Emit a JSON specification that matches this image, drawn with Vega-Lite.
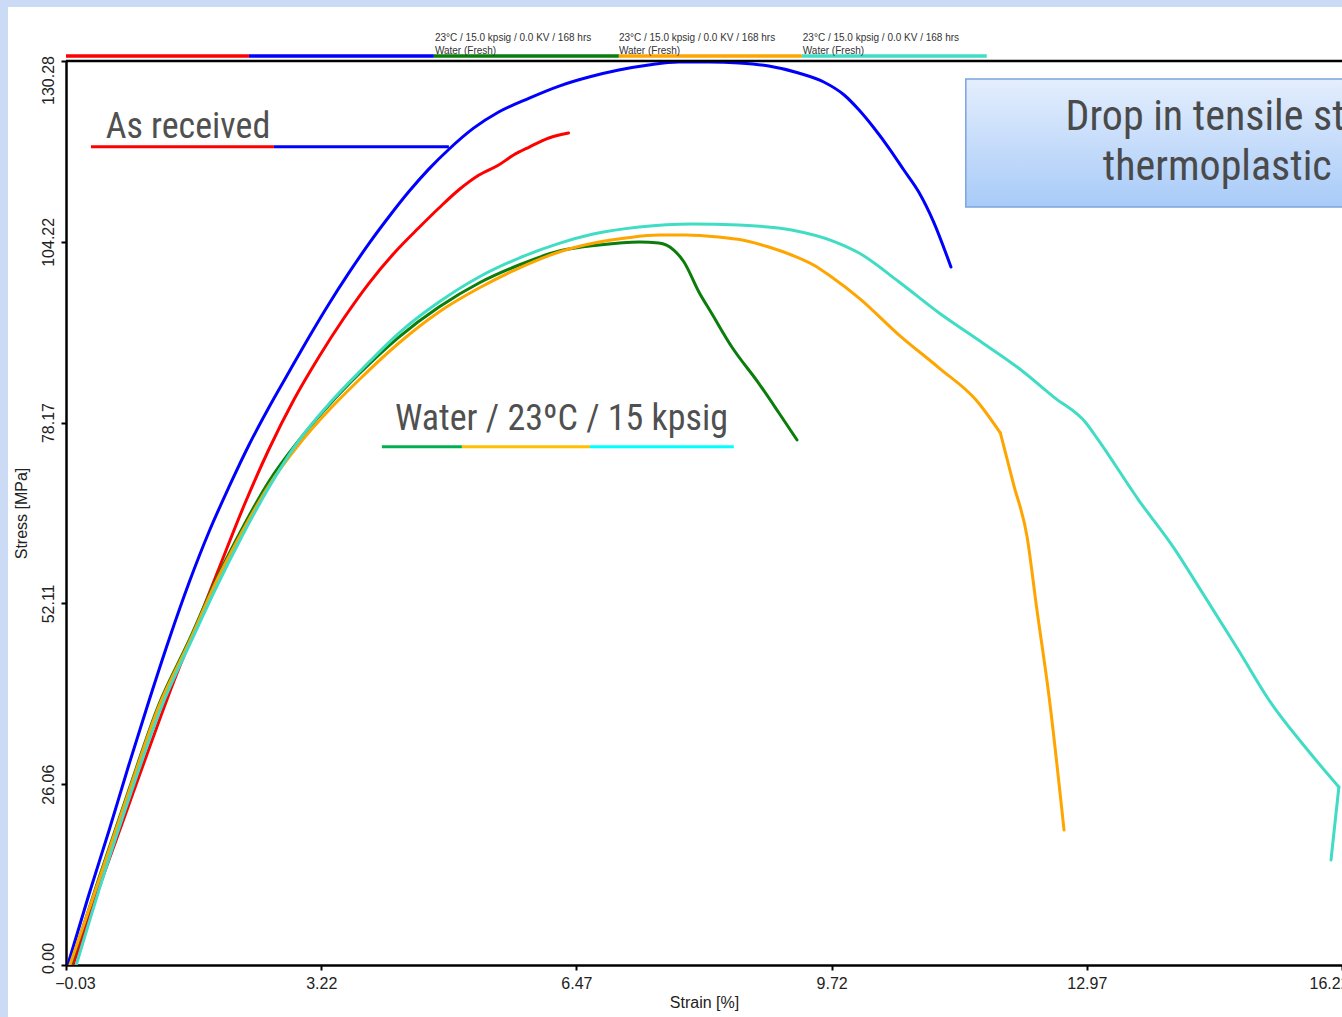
{
  "$schema": "https://vega.github.io/schema/vega-lite/v6.json",
  "width": 1276,
  "height": 904,
  "autosize": {"type": "none"},
  "padding": {"left": 66, "top": 61, "right": 0, "bottom": 52},
  "background": "white",
  "config": {
    "view": {"stroke": null},
    "axis": {
      "domainColor": "black", "domainWidth": 2.5,
      "tickColor": "black", "tickWidth": 2, "tickSize": 5,
      "gridColor": "#c8c8c8", "gridWidth": 1,
      "labelFont": "Liberation Sans", "labelFontSize": 16, "labelColor": "#222222",
      "titleFont": "Liberation Sans", "titleFontSize": 16, "titleFontWeight": "normal", "titleColor": "#222222",
      "labelFlush": false
    }
  },
  "datasets": {
    "curves": [
      {"s":"A2","g":1,"i":0,"x":0.00,"y":0.29},{"s":"A2","g":1,"i":1,"x":0.26,"y":10.09},{"s":"A2","g":1,"i":2,"x":0.52,"y":19.45},{"s":"A2","g":1,"i":3,"x":0.77,"y":28.82},{"s":"A2","g":1,"i":4,"x":1.03,"y":38.19},{"s":"A2","g":1,"i":5,"x":1.28,"y":46.84},{"s":"A2","g":1,"i":6,"x":1.54,"y":55.19},{"s":"A2","g":1,"i":7,"x":1.79,"y":62.4},{"s":"A2","g":1,"i":8,"x":2.05,"y":69.0},{"s":"A2","g":1,"i":9,"x":2.30,"y":74.94},{"s":"A2","g":1,"i":10,"x":2.55,"y":80.27},{"s":"A2","g":1,"i":11,"x":2.81,"y":85.46},{"s":"A2","g":1,"i":12,"x":3.06,"y":90.4},{"s":"A2","g":1,"i":13,"x":3.32,"y":95.3},{"s":"A2","g":1,"i":14,"x":3.57,"y":99.7},{"s":"A2","g":1,"i":15,"x":3.83,"y":104.0},{"s":"A2","g":1,"i":16,"x":4.08,"y":107.8},{"s":"A2","g":1,"i":17,"x":4.34,"y":111.5},{"s":"A2","g":1,"i":18,"x":4.59,"y":114.7},{"s":"A2","g":1,"i":19,"x":4.85,"y":117.6},{"s":"A2","g":1,"i":20,"x":5.16,"y":120.6},{"s":"A2","g":1,"i":21,"x":5.48,"y":122.93},{"s":"A2","g":1,"i":22,"x":5.87,"y":124.94},{"s":"A2","g":1,"i":23,"x":6.25,"y":126.67},{"s":"A2","g":1,"i":24,"x":6.63,"y":127.97},{"s":"A2","g":1,"i":25,"x":7.01,"y":128.98},{"s":"A2","g":1,"i":26,"x":7.39,"y":129.70},{"s":"A2","g":1,"i":27,"x":7.77,"y":130.13},{"s":"A2","g":1,"i":28,"x":8.16,"y":130.13},{"s":"A2","g":1,"i":29,"x":8.54,"y":129.99},{"s":"A2","g":1,"i":30,"x":8.92,"y":129.55},{"s":"A2","g":1,"i":31,"x":9.30,"y":128.55},{"s":"A2","g":1,"i":32,"x":9.62,"y":127.25},{"s":"A2","g":1,"i":33,"x":9.88,"y":125.38},{"s":"A2","g":1,"i":34,"x":10.07,"y":123.21},{"s":"A2","g":1,"i":35,"x":10.26,"y":120.62},{"s":"A2","g":1,"i":36,"x":10.45,"y":117.74},{"s":"A2","g":1,"i":37,"x":10.64,"y":114.57},{"s":"A2","g":1,"i":38,"x":10.83,"y":111.40},{"s":"A2","g":1,"i":39,"x":11.02,"y":107.07},{"s":"A2","g":1,"i":40,"x":11.24,"y":100.59},
      {"s":"A1","g":1,"i":0,"x":0.06,"y":0},{"s":"A1","g":1,"i":1,"x":0.39,"y":11.10},{"s":"A1","g":1,"i":2,"x":0.71,"y":21.18},{"s":"A1","g":1,"i":3,"x":1.03,"y":31.27},{"s":"A1","g":1,"i":4,"x":1.35,"y":41.07},{"s":"A1","g":1,"i":5,"x":1.66,"y":49.72},{"s":"A1","g":1,"i":6,"x":1.92,"y":57.21},{"s":"A1","g":1,"i":7,"x":2.24,"y":66.29},{"s":"A1","g":1,"i":8,"x":2.55,"y":74.22},{"s":"A1","g":1,"i":9,"x":2.87,"y":81.42},{"s":"A1","g":1,"i":10,"x":3.19,"y":87.62},{"s":"A1","g":1,"i":11,"x":3.51,"y":93.24},{"s":"A1","g":1,"i":12,"x":3.83,"y":98.28},{"s":"A1","g":1,"i":13,"x":4.15,"y":102.61},{"s":"A1","g":1,"i":14,"x":4.46,"y":106.21},{"s":"A1","g":1,"i":15,"x":4.72,"y":109.09},{"s":"A1","g":1,"i":16,"x":4.97,"y":111.69},{"s":"A1","g":1,"i":17,"x":5.23,"y":113.85},{"s":"A1","g":1,"i":18,"x":5.48,"y":115.29},{"s":"A1","g":1,"i":19,"x":5.67,"y":116.73},{"s":"A1","g":1,"i":20,"x":5.87,"y":117.88},{"s":"A1","g":1,"i":21,"x":6.12,"y":119.18},{"s":"A1","g":1,"i":22,"x":6.37,"y":119.90},
      {"s":"W1","g":1,"i":0,"x":0.03,"y":0},{"s":"W1","g":1,"i":1,"x":0.39,"y":12.54},{"s":"W1","g":1,"i":2,"x":0.77,"y":25.22},{"s":"W1","g":1,"i":3,"x":1.15,"y":37.47},{"s":"W1","g":1,"i":4,"x":1.54,"y":46.84},{"s":"W1","g":1,"i":5,"x":1.85,"y":54.76},{"s":"W1","g":1,"i":6,"x":2.17,"y":61.97},{"s":"W1","g":1,"i":7,"x":2.55,"y":69.61},{"s":"W1","g":1,"i":8,"x":2.94,"y":75.66},{"s":"W1","g":1,"i":9,"x":3.32,"y":80.70},{"s":"W1","g":1,"i":10,"x":3.70,"y":85.17},{"s":"W1","g":1,"i":11,"x":4.21,"y":90.50},{"s":"W1","g":1,"i":12,"x":4.72,"y":94.82},{"s":"W1","g":1,"i":13,"x":5.23,"y":98.28},{"s":"W1","g":1,"i":14,"x":5.74,"y":100.88},{"s":"W1","g":1,"i":15,"x":6.25,"y":102.89},{"s":"W1","g":1,"i":16,"x":6.76,"y":103.76},{"s":"W1","g":1,"i":17,"x":7.27,"y":104.19},{"s":"W1","g":1,"i":18,"x":7.52,"y":104.05},{"s":"W1","g":1,"i":19,"x":7.71,"y":103.04},{"s":"W1","g":1,"i":20,"x":7.84,"y":101.31},{"s":"W1","g":1,"i":21,"x":8.03,"y":96.99},{"s":"W1","g":1,"i":22,"x":8.19,"y":93.96},{"s":"W1","g":1,"i":23,"x":8.45,"y":89.06},{"s":"W1","g":1,"i":24,"x":8.79,"y":83.87},{"s":"W1","g":1,"i":25,"x":9.05,"y":79.55},{"s":"W1","g":1,"i":26,"x":9.28,"y":75.66},
      {"s":"W2","g":1,"i":0,"x":0.02,"y":0},{"s":"W2","g":1,"i":1,"x":0.39,"y":12.25},{"s":"W2","g":1,"i":2,"x":0.77,"y":24.93},{"s":"W2","g":1,"i":3,"x":1.15,"y":37.18},{"s":"W2","g":1,"i":4,"x":1.54,"y":46.55},{"s":"W2","g":1,"i":5,"x":1.85,"y":54.47},{"s":"W2","g":1,"i":6,"x":2.17,"y":61.53},{"s":"W2","g":1,"i":7,"x":2.55,"y":69.03},{"s":"W2","g":1,"i":8,"x":2.94,"y":75.08},{"s":"W2","g":1,"i":9,"x":3.32,"y":79.98},{"s":"W2","g":1,"i":10,"x":3.70,"y":84.31},{"s":"W2","g":1,"i":11,"x":4.21,"y":89.64},{"s":"W2","g":1,"i":12,"x":4.72,"y":94.11},{"s":"W2","g":1,"i":13,"x":5.23,"y":97.56},{"s":"W2","g":1,"i":14,"x":5.74,"y":100.44},{"s":"W2","g":1,"i":15,"x":6.25,"y":102.75},{"s":"W2","g":1,"i":16,"x":6.76,"y":104.19},{"s":"W2","g":1,"i":17,"x":7.10,"y":104.77},{"s":"W2","g":1,"i":18,"x":7.52,"y":105.20},{"s":"W2","g":1,"i":19,"x":7.86,"y":105.20},{"s":"W2","g":1,"i":20,"x":8.28,"y":104.91},{"s":"W2","g":1,"i":21,"x":8.58,"y":104.48},{"s":"W2","g":1,"i":22,"x":8.92,"y":103.47},{"s":"W2","g":1,"i":23,"x":9.21,"y":102.32},{"s":"W2","g":1,"i":24,"x":9.49,"y":100.88},{"s":"W2","g":1,"i":25,"x":9.72,"y":99.15},{"s":"W2","g":1,"i":26,"x":10.07,"y":96.12},{"s":"W2","g":1,"i":27,"x":10.58,"y":90.79},{"s":"W2","g":1,"i":28,"x":11.09,"y":86.03},{"s":"W2","g":1,"i":29,"x":11.56,"y":81.42},{"s":"W2","g":1,"i":30,"x":11.87,"y":76.66},{"s":"W2","g":2,"i":31,"x":11.87,"y":76.66},{"s":"W2","g":2,"i":32,"x":12.04,"y":69.17},{"s":"W2","g":2,"i":33,"x":12.21,"y":61.68},{"s":"W2","g":2,"i":34,"x":12.33,"y":51.59},{"s":"W2","g":2,"i":35,"x":12.49,"y":38.62},{"s":"W2","g":2,"i":36,"x":12.68,"y":19.45},
      {"s":"W3","g":1,"i":0,"x":0.10,"y":0},{"s":"W3","g":1,"i":1,"x":0.43,"y":12.25},{"s":"W3","g":1,"i":2,"x":0.80,"y":24.93},{"s":"W3","g":1,"i":3,"x":1.18,"y":37.04},{"s":"W3","g":1,"i":4,"x":1.56,"y":46.55},{"s":"W3","g":1,"i":5,"x":1.88,"y":54.33},{"s":"W3","g":1,"i":6,"x":2.20,"y":61.53},{"s":"W3","g":1,"i":7,"x":2.58,"y":69.32},{"s":"W3","g":1,"i":8,"x":2.96,"y":75.95},{"s":"W3","g":1,"i":9,"x":3.34,"y":81.13},{"s":"W3","g":1,"i":10,"x":3.73,"y":85.75},{"s":"W3","g":1,"i":11,"x":4.21,"y":91.08},{"s":"W3","g":1,"i":12,"x":4.72,"y":95.54},{"s":"W3","g":1,"i":13,"x":5.23,"y":99.15},{"s":"W3","g":1,"i":14,"x":5.74,"y":101.88},{"s":"W3","g":1,"i":15,"x":6.25,"y":104.0},{"s":"W3","g":1,"i":16,"x":6.67,"y":105.3},{"s":"W3","g":1,"i":17,"x":7.27,"y":106.35},{"s":"W3","g":1,"i":18,"x":7.94,"y":106.79},{"s":"W3","g":1,"i":19,"x":8.54,"y":106.64},{"s":"W3","g":1,"i":20,"x":9.21,"y":105.92},{"s":"W3","g":1,"i":21,"x":9.77,"y":104.19},{"s":"W3","g":1,"i":22,"x":10.07,"y":102.61},{"s":"W3","g":1,"i":23,"x":10.58,"y":98.43},{"s":"W3","g":1,"i":24,"x":11.09,"y":93.96},{"s":"W3","g":1,"i":25,"x":11.59,"y":90.07},{"s":"W3","g":1,"i":26,"x":12.10,"y":86.03},{"s":"W3","g":1,"i":27,"x":12.55,"y":81.85},{"s":"W3","g":1,"i":28,"x":12.96,"y":78.11},{"s":"W3","g":1,"i":29,"x":13.12,"y":75.6},{"s":"W3","g":1,"i":30,"x":13.63,"y":67.01},{"s":"W3","g":1,"i":31,"x":14.08,"y":60.09},{"s":"W3","g":1,"i":32,"x":14.46,"y":53.32},{"s":"W3","g":1,"i":33,"x":14.90,"y":45.39},{"s":"W3","g":1,"i":34,"x":15.29,"y":38.19},{"s":"W3","g":1,"i":35,"x":15.73,"y":31.70},{"s":"W3","g":1,"i":36,"x":16.18,"y":25.65},{"s":"W3","g":2,"i":37,"x":16.18,"y":25.65},{"s":"W3","g":2,"i":38,"x":16.08,"y":15.13}
    ],
    "legend": [
      {"s":"A1","x0":-0.03,"x1":2.30},
      {"s":"A2","x0":2.30,"x1":4.655},
      {"s":"W1","x0":4.655,"x1":7.011},
      {"s":"W2","x0":7.011,"x1":9.341},
      {"s":"W3","x0":9.341,"x1":11.696}
    ],
    "legendText": [
      {"s":"W1","x":4.668,"label":"23°C / 15.0 kpsig / 0.0 KV / 168 hrs\nWater (Fresh)"},
      {"s":"W2","x":7.011,"label":"23°C / 15.0 kpsig / 0.0 KV / 168 hrs\nWater (Fresh)"},
      {"s":"W3","x":9.353,"label":"23°C / 15.0 kpsig / 0.0 KV / 168 hrs\nWater (Fresh)"}
    ],
    "underlines": [
      {"k":"red","x0":0.288,"x1":2.618,"y":117.93},
      {"k":"blue","x0":2.618,"x1":4.846,"y":117.93},
      {"k":"green","x0":3.993,"x1":5.012,"y":74.69},
      {"k":"orange","x0":5.012,"x1":6.642,"y":74.69},
      {"k":"cyan","x0":6.642,"x1":8.475,"y":74.69}
    ],
    "labels": [
      {"t":"As received","x":0.475,"y":119.13},
      {"t":"Water / 23ºC / 15 kpsig","x":4.159,"y":77.10}
    ],
    "box": [{"x0":11.429,"x1":17.5,"y0":109.23,"y1":127.68}],
    "boxText": [
      {"t":"Drop in tensile strength of","x":12.698,"y":120.33},
      {"t":"thermoplastic material","x":13.173,"y":113.13}
    ]
  },
  "layer": [
    {
      "data": {"values": [{}]},
      "mark": {"type": "rect", "color": "#cbdaf5", "clip": false},
      "encoding": {
        "x": {"datum": -0.9, "type": "quantitative"},
        "x2": {"datum": 17.5},
        "y": {"datum": 138.06, "type": "quantitative"},
        "y2": {"datum": 141}
      }
    },
    {
      "data": {"values": [{}]},
      "mark": {"type": "rect", "color": "#cbdaf5", "clip": false},
      "encoding": {
        "x": {"datum": -0.9, "type": "quantitative"},
        "x2": {"datum": -0.769},
        "y": {"datum": -9, "type": "quantitative"},
        "y2": {"datum": 141}
      }
    },
    {
      "data": {"name": "curves"},
      "mark": {"type": "line", "strokeWidth": 3, "clip": true, "interpolate": "monotone", "strokeJoin": "round", "strokeCap": "round"},
      "encoding": {
        "x": {
          "field": "x", "type": "quantitative",
          "scale": {"domain": [-0.03, 16.22], "nice": false, "zero": false},
          "axis": {
            "title": "Strain [%]",
            "values": [-0.03, 3.22, 6.47, 9.72, 12.97, 16.22],
            "format": ".2f",
            "labelPadding": 5,
            "titlePadding": 3,
            "labelOffset": {"condition": [{"test": "datum.value < 0", "value": 9}, {"test": "datum.value > 16", "value": -13}], "value": 0}
          }
        },
        "y": {
          "field": "y", "type": "quantitative",
          "scale": {"domain": [0, 130.28], "nice": false, "zero": false},
          "axis": {
            "title": "Stress [MPa]",
            "values": [0, 26.06, 52.11, 78.17, 104.22, 130.28],
            "format": ".2f",
            "labelAngle": -90,
            "labelAlign": "center",
            "labelBaseline": "alphabetic",
            "labelPadding": 8,
            "titlePadding": 11,
            "labelOffset": {"condition": [{"test": "datum.value > 130", "value": 19}, {"test": "datum.value < 1", "value": -7}], "value": 0}
          }
        },
        "color": {
          "field": "s", "type": "nominal",
          "scale": {"domain": ["W3", "W2", "W1", "A1", "A2"], "range": ["#40dcc4", "#ffa500", "#0a7d0a", "#ff0000", "#0000ff"]},
          "legend": null
        },
        "detail": {"field": "g", "type": "nominal"},
        "order": {"field": "i", "type": "quantitative"}
      }
    },
    {
      "data": {"values": [{}]},
      "mark": {"type": "rule", "color": "black", "strokeWidth": 2.5},
      "encoding": {"y": {"datum": 130.28, "type": "quantitative"}}
    },
    {
      "data": {"name": "legend"},
      "mark": {"type": "rule", "strokeWidth": 3.5, "clip": false},
      "encoding": {
        "x": {"field": "x0", "type": "quantitative"},
        "x2": {"field": "x1"},
        "y": {"datum": 131.0, "type": "quantitative"},
        "color": {"field": "s", "type": "nominal", "legend": null}
      }
    },
    {
      "data": {"name": "legendText"},
      "mark": {"type": "text", "align": "left", "baseline": "alphabetic", "font": "Liberation Sans", "fontSize": 10, "lineHeight": 13, "lineBreak": "\n", "color": "#333333", "clip": false},
      "encoding": {
        "x": {"field": "x", "type": "quantitative"},
        "y": {"datum": 133.16, "type": "quantitative"},
        "text": {"field": "label"}
      }
    },
    {
      "data": {"name": "underlines"},
      "mark": {"type": "rule", "strokeWidth": 3},
      "encoding": {
        "x": {"field": "x0", "type": "quantitative"},
        "x2": {"field": "x1"},
        "y": {"field": "y", "type": "quantitative"},
        "stroke": {
          "field": "k", "type": "nominal",
          "scale": {"domain": ["red", "blue", "green", "orange", "cyan"], "range": ["#ff0000", "#0000ff", "#00b050", "#ffc000", "#00ffff"]},
          "legend": null
        }
      }
    },
    {
      "data": {"name": "labels"},
      "mark": {"type": "text", "align": "left", "baseline": "alphabetic", "font": "Roboto Condensed, Liberation Sans Narrow, DejaVu Sans Condensed, Roboto", "fontSize": 36, "color": "#505050"},
      "encoding": {
        "x": {"field": "x", "type": "quantitative"},
        "y": {"field": "y", "type": "quantitative"},
        "text": {"field": "t"}
      }
    },
    {
      "data": {"name": "box"},
      "mark": {
        "type": "rect", "clip": false, "stroke": "#7ba4dd", "strokeWidth": 1.5,
        "fill": {"gradient": "linear", "x1": 0, "y1": 0, "x2": 0, "y2": 1, "stops": [{"offset": 0, "color": "#e4eefd"}, {"offset": 1, "color": "#a8cbf8"}]}
      },
      "encoding": {
        "x": {"field": "x0", "type": "quantitative"},
        "x2": {"field": "x1"},
        "y": {"field": "y0", "type": "quantitative"},
        "y2": {"field": "y1"}
      }
    },
    {
      "data": {"name": "boxText"},
      "mark": {"type": "text", "align": "left", "baseline": "alphabetic", "font": "Roboto Condensed, Liberation Sans Narrow, DejaVu Sans Condensed, Roboto", "fontSize": 42, "color": "#4a4a4a", "clip": false},
      "encoding": {
        "x": {"field": "x", "type": "quantitative"},
        "y": {"field": "y", "type": "quantitative"},
        "text": {"field": "t"}
      }
    }
  ]
}
